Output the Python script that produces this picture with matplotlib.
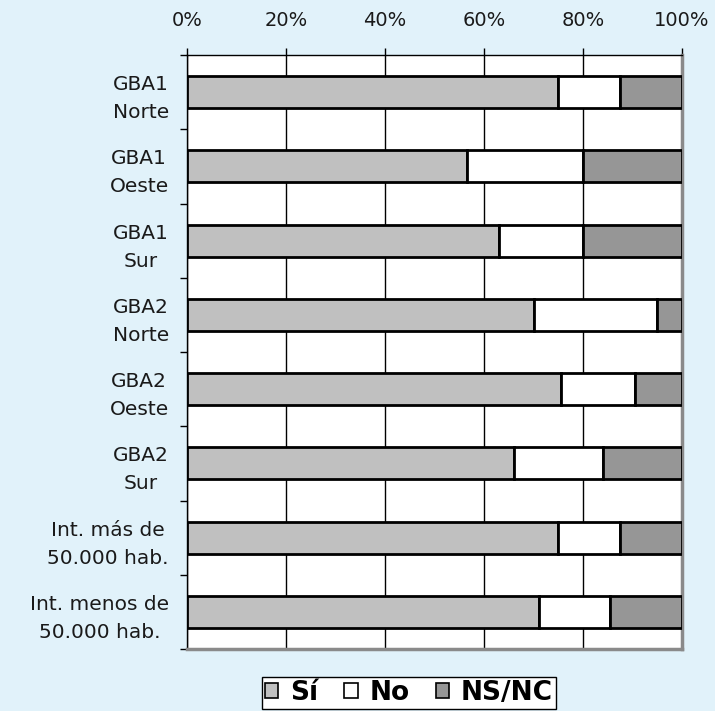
import matplotlib.pyplot as plt
import numpy as np

# Data (percent)
categories = ['GBA1\nNorte', 'GBA1\nOeste', 'GBA1\nSur', 'GBA2\nNorte', 'GBA2\nOeste',
              'GBA2\nSur', 'Int. más de\n50.000 hab.', 'Int. menos de\n50.000 hab.']
si = [75, 56.5, 63, 70, 75.5, 66, 75, 71]
no = [12.5, 23.5, 17, 25, 15, 18, 12.5, 14.5]
nsnc = [12.5, 20, 20, 5, 9.5, 16, 12.5, 14.5]

bg = '#e1f2fa'

fig = plt.figure(figsize=(7.15, 7.11), dpi=100, facecolor=bg)
ax = fig.add_axes([0.2615, 0.0872, 0.954 - 0.2615, 0.9226 - 0.0872])
ax.set_facecolor('white')

y = np.arange(len(categories))
si = np.array(si)
no = np.array(no)
nsnc = np.array(nsnc)
h = 0.43
ax.barh(y, si, height=h, color='#c0c0c0', edgecolor='black', linewidth=2, label='Sí', zorder=3)
ax.barh(y, no, left=si, height=h, color='white', edgecolor='black', linewidth=2, label='No', zorder=3)
ax.barh(y, nsnc, left=si + no, height=h, color='#969696', edgecolor='black', linewidth=2, label='NS/NC', zorder=3)

ax.set_xlim(0, 100)
ax.set_ylim(len(categories) - 0.5, -0.5)

# x axis on top
ax.xaxis.tick_top()
ax.set_xticks([0, 20, 40, 60, 80, 100])
ax.set_xticklabels(['0%', '20%', '40%', '60%', '80%', '100%'], fontsize=14, color='#1a1a1a')
ax.tick_params(axis='x', direction='out', length=5, width=1, pad=13)
ax.grid(axis='x', color='black', linewidth=1, zorder=0)

# y ticks at boundaries, labels at centers
ax.set_yticks(np.arange(len(categories) + 1) - 0.5)
ax.set_yticklabels([])
ax.tick_params(axis='y', which='major', direction='out', length=5, width=1)
ax.set_yticks(y, minor=True)
ax.set_yticklabels(categories, minor=True, fontsize=14.5, color='#1a1a1a',
                   multialignment='center', linespacing=1.6)
ax.tick_params(axis='y', which='minor', length=0, pad=13)

for s in ['left', 'top']:
    ax.spines[s].set_color('black')
    ax.spines[s].set_linewidth(1)
for s in ['right', 'bottom']:
    ax.spines[s].set_color('#8a8a8a')
    ax.spines[s].set_linewidth(2.5)

leg = fig.legend(loc='upper center', bbox_to_anchor=(0.572, 0.0485), ncol=3, frameon=True,
                 fancybox=False, edgecolor='black', facecolor='white', framealpha=1,
                 prop={'weight': 'bold', 'size': 19}, handlelength=0.5, handleheight=0.5,
                 handletextpad=0.45, columnspacing=1.0, borderpad=0.12, borderaxespad=0)
leg.get_frame().set_linewidth(1)
for hnd in leg.legend_handles:
    hnd.set_linewidth(1.2)

fig.savefig('out.png', dpi=100, facecolor=bg)
